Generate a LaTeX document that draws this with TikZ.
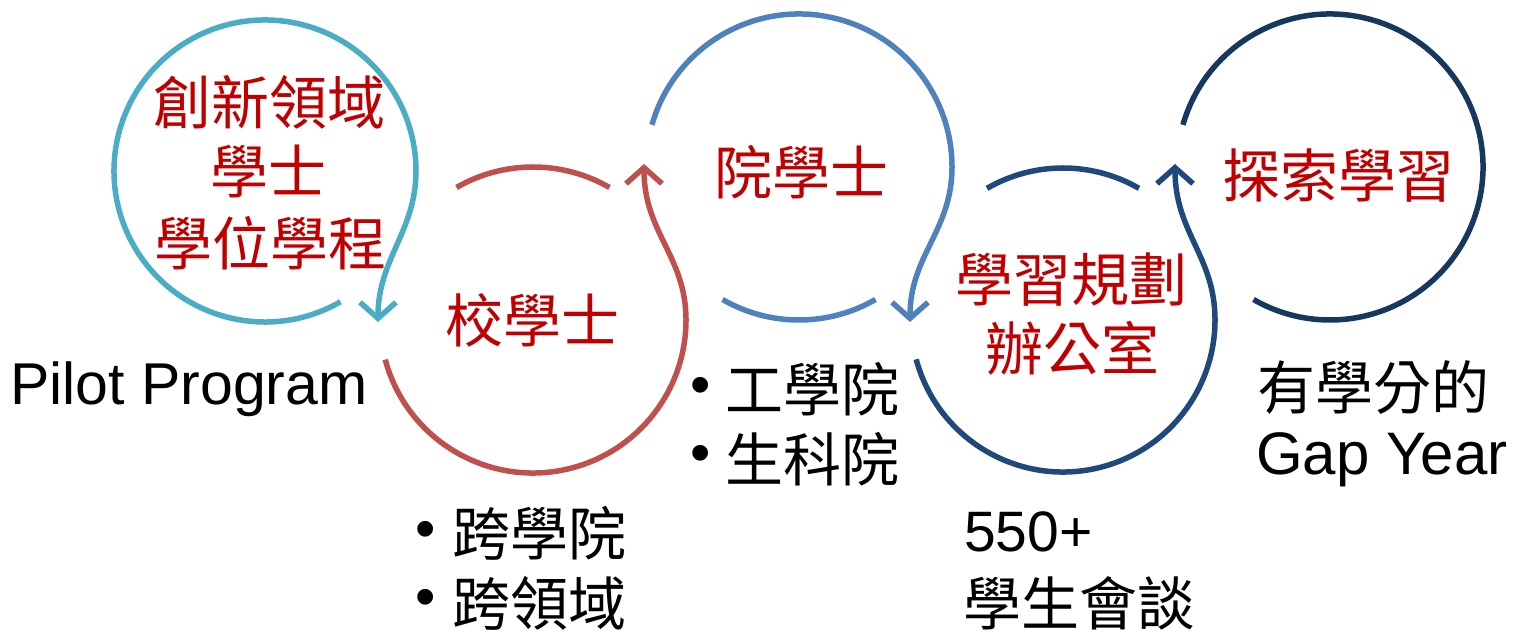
\documentclass[tikz,border=0pt]{standalone}
\usepackage{fontspec}
\setmainfont{Liberation Sans}
\newfontfamily\cjk{Noto Sans CJK TC}
\usetikzlibrary{arrows.meta}
\definecolor{cteal}{HTML}{4BACC6}
\definecolor{cred}{HTML}{C0504D}
\definecolor{cblue}{HTML}{4F81BD}
\definecolor{cdblue}{HTML}{1F497D}
\definecolor{cnavy}{HTML}{17375E}
\definecolor{ctext}{HTML}{C00000}
\begin{document}
\begin{tikzpicture}[x=1pt,y=1pt,
  ring/.style={line width=5.5pt},
  tipped/.style={ring,-{Straight Barb[length=16pt,width=36pt]}},
  redlbl/.style={font=\cjk\fontsize{58}{70}\selectfont,text=ctext,inner sep=0pt},
  blklbl/.style={font=\cjk\fontsize{58}{70}\selectfont,inner sep=0pt,anchor=west},
  latin/.style={font=\fontsize{59}{70}\selectfont,inner sep=0pt,anchor=base west},
  bul/.style={font=\fontsize{58}{70}\selectfont,inner sep=0pt}
]
\useasboundingbox (0,0) rectangle (1514,631);
\coordinate (c1) at (265,460);
\coordinate (c2) at (533,311);
\coordinate (c3) at (799,464);
\coordinate (c4) at (1063,311);
\coordinate (c5) at (1330,464);
\coordinate (tip1) at (378,309);
\coordinate (tip2) at (644,467);
\coordinate (tip3) at (910,309);
\coordinate (tip4) at (1175,467);

% circle 1
\draw[tipped,cteal] ([shift={(-60:151pt)}]c1) arc[start angle=-60,end angle=-360,radius=151pt]
  .. controls (416,400) and (378,372) .. (tip1);
% circle 2
\draw[tipped,cred] ([shift={(195:153pt)}]c2) arc[start angle=195,end angle=360,radius=153pt]
  .. controls (686,375) and (644,398) .. (tip2);
\draw[ring,cred] ([shift={(60:153pt)}]c2) arc[start angle=60,end angle=120,radius=153pt];
% circle 3
\draw[tipped,cblue] ([shift={(164:153pt)}]c3) arc[start angle=164,end angle=0,radius=153pt]
  .. controls (952,400) and (910,376) .. (tip3);
\draw[ring,cblue] ([shift={(240:153pt)}]c3) arc[start angle=240,end angle=300,radius=153pt];
% circle 4
\draw[tipped,cdblue] ([shift={(195:152pt)}]c4) arc[start angle=195,end angle=360,radius=152pt]
  .. controls (1215,375) and (1175,398) .. (tip4);
\draw[ring,cdblue] ([shift={(60:152pt)}]c4) arc[start angle=60,end angle=120,radius=152pt];
% circle 5
\draw[ring,cnavy] ([shift={(164:153pt)}]c5) arc[start angle=164,end angle=-120,radius=153pt];

% red labels
\node[redlbl] (t1a) at (269,529) {創新領域};
\node[redlbl] (t1b) at (268,460) {學士};
\node[redlbl] (t1c) at (270,388) {學位學程};
\node[redlbl] (t2) at (532,311) {校學士};
\node[redlbl] (t3) at (801,459) {院學士};
\node[redlbl] (t4a) at (1071,351) {學習規劃};
\node[redlbl] (t4b) at (1072,283) {辦公室};
\node[redlbl] (t5) at (1338,455) {探索學習};

% black labels
\node[latin] (pilot) at (10,226) {Pilot Program};
\node[bul] (b1) at (701,240) {•};
\node[blklbl] (l1) at (725,242) {工學院};
\node[bul] (b2) at (701,172) {•};
\node[blklbl] (l2) at (725,172) {生科院};
\node[bul] (b3) at (426,96) {•};
\node[blklbl] (l3) at (452,98) {跨學院};
\node[bul] (b4) at (426,28) {•};
\node[blklbl] (l4) at (452,28) {跨領域};
\node[latin,font=\fontsize{57}{68}\selectfont] (n550) at (964,79) {550+};
\node[blklbl] (l5) at (963,28) {學生會談};
\node[blklbl] (l6) at (1257,244) {有學分的};
\node[latin,font=\fontsize{60}{70}\selectfont] (gap) at (1256,156) {Gap Year};
\end{tikzpicture}
\end{document}
